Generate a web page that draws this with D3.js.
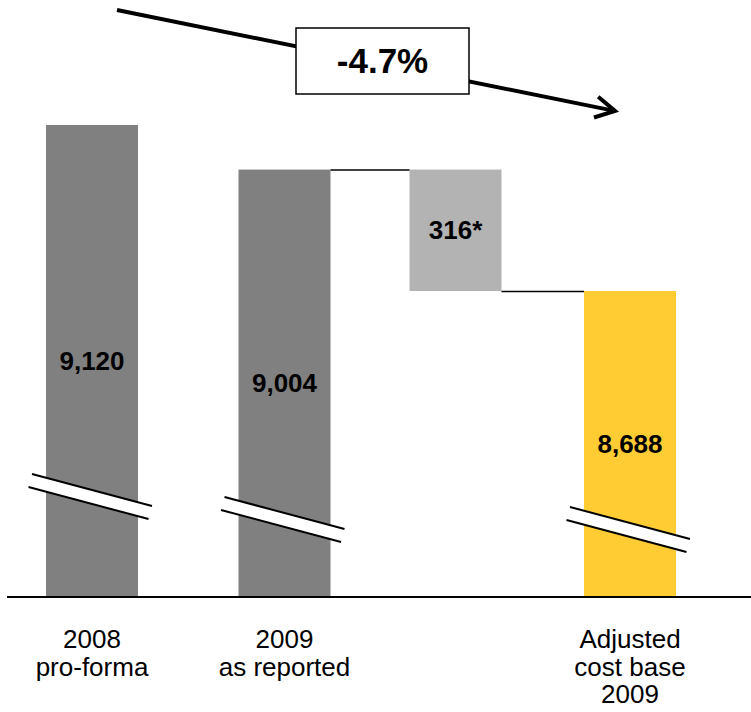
<!DOCTYPE html>
<html>
<head>
<meta charset="utf-8">
<script src="https://cdn.jsdelivr.net/npm/d3@7"></script>
<style>
  html, body { margin: 0; padding: 0; background: #ffffff; }
  svg { display: block; font-family: "Liberation Sans", Arial, sans-serif; }
</style>
</head>
<body>
<svg id="chart" width="751" height="712"></svg>
<script>
// Cost base bridge, 2008 pro-forma to adjusted 2009
const categories = ["2008 pro-forma", "2009 as reported", "Adjustment", "Adjusted cost base 2009"];
const categoryLines = [["2008", "pro-forma"], ["2009", "as reported"], [], ["Adjusted", "cost base", "2009"]];
const kinds = ["total", "total", "delta", "result"];
const values = [9120, 9004, 316, 8688];
const valueLabels = ["9,120", "9,004", "316*", "8,688"];
const changeLabel = "-4.7%";

const svg = d3.select("#chart");
const W = 751;
const baseY = 597;

const colors = { total: "#808080", delta: "#b3b3b3", result: "#ffcc33" };

// Broken value axis: bars rise from the baseline, the scale only spans the top of the range
const y = d3.scaleLinear().domain([8688, 9120]).range([291, 125]);
const x = d3.scaleOrdinal().domain(categories).range([92, 284.5, 455.5, 630]);
const barW = 92;

// Each bar's top and bottom in value terms
const bars = categories.map((c, i) => {
  if (kinds[i] === "delta") {
    const hi = values[i - 1];
    return { c, i, top: y(hi), bottom: y(hi - values[i]) };
  }
  return { c, i, top: y(values[i]), bottom: baseY };
});

// Bars
svg.append("g").selectAll("rect").data(bars).join("rect")
  .attr("x", d => x(d.c) - barW / 2)
  .attr("width", barW)
  .attr("y", d => d.top)
  .attr("height", d => d.bottom - d.top)
  .attr("fill", d => colors[kinds[d.i]]);

// Connectors between the reported bar, the adjustment and the adjusted bar
const connectors = [
  { from: categories[1], to: categories[2], v: values[1] },
  { from: categories[2], to: categories[3], v: values[1] - values[2] }
];
svg.append("g").selectAll("line").data(connectors).join("line")
  .attr("x1", d => x(d.from) + barW / 2)
  .attr("x2", d => x(d.to) - barW / 2)
  .attr("y1", d => y(d.v) + 0.5)
  .attr("y2", d => y(d.v) + 0.5)
  .attr("stroke", "#000")
  .attr("stroke-width", 1.5);

// Axis break marks on the full-height bars
const breakLift = { total0: 107, total1: 84, result3: 74 };
const breaks = bars.filter(d => kinds[d.i] !== "delta").map(d => {
  const lift = breakLift[kinds[d.i] + d.i];
  return { cx: x(d.c), m: baseY - lift };
});
const bg = svg.append("g").selectAll("g").data(breaks).join("g");
const half = 60, rise = 16, off = [-3.5, 13];
bg.append("path")
  .attr("d", d => `M${d.cx - half},${d.m - rise}L${d.cx + half},${d.m + rise}` +
    `L${d.cx + half + off[0]},${d.m + rise + off[1]}L${d.cx - half + off[0]},${d.m - rise + off[1]}Z`)
  .attr("fill", "#fff");
bg.append("line")
  .attr("x1", d => d.cx - half).attr("y1", d => d.m - rise)
  .attr("x2", d => d.cx + half).attr("y2", d => d.m + rise)
  .attr("stroke", "#000").attr("stroke-width", 2);
bg.append("line")
  .attr("x1", d => d.cx - half + off[0]).attr("y1", d => d.m - rise + off[1])
  .attr("x2", d => d.cx + half + off[0]).attr("y2", d => d.m + rise + off[1])
  .attr("stroke", "#000").attr("stroke-width", 2);

// Baseline
svg.append("line")
  .attr("x1", 7).attr("x2", W)
  .attr("y1", baseY).attr("y2", baseY)
  .attr("stroke", "#000").attr("stroke-width", 2);

// Value labels, centred in each bar
svg.append("g").selectAll("text").data(bars).join("text")
  .attr("x", d => x(d.c))
  .attr("y", d => (d.top + d.bottom) / 2)
  .attr("dy", "0.35em")
  .attr("text-anchor", "middle")
  .attr("font-size", 26)
  .attr("font-weight", "bold")
  .attr("fill", "#000")
  .text(d => valueLabels[d.i]);

// Category labels
const cat = svg.append("g").selectAll("text").data(categories).join("text")
  .attr("x", d => x(d))
  .attr("y", 648)
  .attr("text-anchor", "middle")
  .attr("font-size", 26)
  .attr("fill", "#000");
cat.selectAll("tspan").data((d, i) => categoryLines[i]).join("tspan")
  .attr("x", function () { return d3.select(this.parentNode).attr("x"); })
  .attr("dy", (d, j) => j === 0 ? 0 : 27.5)
  .text(d => d);

// Overall change arrow with its boxed percentage
const arrow = { x1: 117, y1: 10, x2: 615, y2: 111 };
svg.append("line")
  .attr("x1", arrow.x1).attr("y1", arrow.y1)
  .attr("x2", arrow.x2 - 3).attr("y2", arrow.y2 - 0.6)
  .attr("stroke", "#000").attr("stroke-width", 4);
const ang = Math.atan2(arrow.y2 - arrow.y1, arrow.x2 - arrow.x1);
const headLen = 22, headAng = 0.5;
const arm = s => [arrow.x2 - headLen * Math.cos(ang + s * headAng), arrow.y2 - headLen * Math.sin(ang + s * headAng)];
svg.append("path")
  .attr("d", d3.line()([arm(-1), [arrow.x2, arrow.y2], arm(1)]))
  .attr("fill", "none")
  .attr("stroke", "#000")
  .attr("stroke-width", 4)
  .attr("stroke-linejoin", "miter");

const box = { x: 296, y: 28, w: 173, h: 66 };
svg.append("rect")
  .attr("x", box.x).attr("y", box.y)
  .attr("width", box.w).attr("height", box.h)
  .attr("fill", "#fff")
  .attr("stroke", "#000")
  .attr("stroke-width", 1.5);
svg.append("text")
  .attr("x", box.x + box.w / 2)
  .attr("y", box.y + box.h / 2)
  .attr("dy", "0.35em")
  .attr("text-anchor", "middle")
  .attr("font-size", 35)
  .attr("font-weight", "bold")
  .attr("fill", "#000")
  .text(changeLabel);
</script>
</body>
</html>
